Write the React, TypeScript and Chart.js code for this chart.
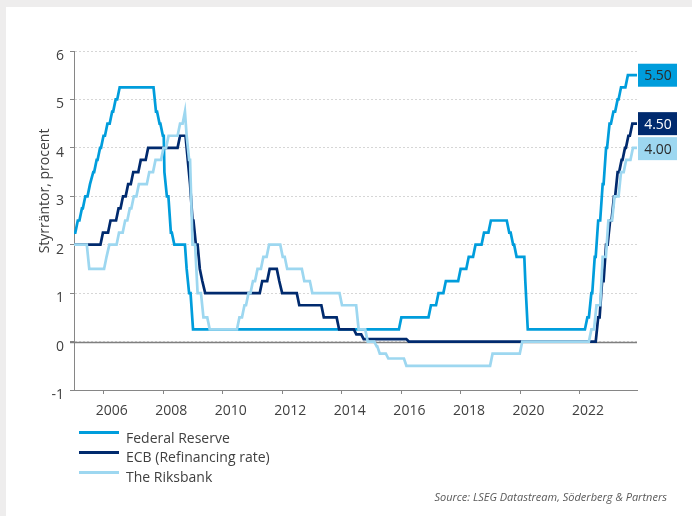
import React, { useEffect, useRef } from "react";
import { Chart, registerables } from "chart.js";

Chart.register(...registerables);

// ---------- data ----------
const SERIES_NAMES = ["Federal Reserve", "ECB (Refinancing rate)", "The Riksbank"];

const X_TICKS = [2006, 2008, 2010, 2012, 2014, 2016, 2018, 2020, 2022];
const Y_TICKS = [-1, 0, 1, 2, 3, 4, 5, 6];
const Y_TITLE = "Styrräntor, procent";
const SOURCE = "Source: LSEG Datastream, Söderberg & Partners";

const FED_DATES = [
  "2005-01-01", "2005-02-02", "2005-03-22", "2005-05-03", "2005-06-30", "2005-08-09",
  "2005-09-20", "2005-11-01", "2005-12-13", "2006-01-31", "2006-03-28", "2006-05-10",
  "2006-06-29", "2007-09-18", "2007-10-31", "2007-12-11", "2008-01-22", "2008-01-30",
  "2008-03-18", "2008-04-30", "2008-10-08", "2008-10-29", "2008-12-16", "2015-12-16",
  "2016-12-14", "2017-03-15", "2017-06-14", "2017-12-13", "2018-03-21", "2018-06-13",
  "2018-09-26", "2018-12-19", "2019-07-31", "2019-09-18", "2019-10-30", "2020-03-03",
  "2020-03-15", "2022-03-16", "2022-05-04", "2022-06-15", "2022-07-27", "2022-09-21",
  "2022-11-02", "2022-12-14", "2023-02-01", "2023-03-22", "2023-05-03", "2023-07-26",
  "2023-12-01",
];
const FED_RATES = [
  2.25, 2.5, 2.75, 3.0, 3.25, 3.5,
  3.75, 4.0, 4.25, 4.5, 4.75, 5.0,
  5.25, 4.75, 4.5, 4.25, 3.5, 3.0,
  2.25, 2.0, 1.5, 1.0, 0.25, 0.5,
  0.75, 1.0, 1.25, 1.5, 1.75, 2.0,
  2.25, 2.5, 2.25, 2.0, 1.75, 1.25,
  0.25, 0.5, 1.0, 1.75, 2.5, 3.25,
  4.0, 4.5, 4.75, 5.0, 5.25, 5.5,
  5.5,
];

const ECB_DATES = [
  "2005-01-01", "2005-12-06", "2006-03-08", "2006-06-15", "2006-08-09", "2006-10-11",
  "2006-12-13", "2007-03-14", "2007-06-13", "2008-07-09", "2008-10-15", "2008-11-12",
  "2008-12-10", "2009-01-21", "2009-03-11", "2009-04-08", "2009-05-13", "2011-04-13",
  "2011-07-13", "2011-11-09", "2011-12-14", "2012-07-11", "2013-05-08", "2013-11-13",
  "2014-06-11", "2014-09-10", "2016-03-16", "2022-07-27", "2022-09-14", "2022-11-02",
  "2022-12-21", "2023-02-08", "2023-03-22", "2023-05-10", "2023-06-21", "2023-08-02",
  "2023-09-20", "2023-12-01",
];
const ECB_RATES = [
  2.0, 2.25, 2.5, 2.75, 3.0, 3.25,
  3.5, 3.75, 4.0, 4.25, 3.75, 3.25,
  2.5, 2.0, 1.5, 1.25, 1.0, 1.25,
  1.5, 1.25, 1.0, 0.75, 0.5, 0.25,
  0.15, 0.05, 0.0, 0.5, 1.25, 2.0,
  2.5, 3.0, 3.5, 3.75, 4.0, 4.25,
  4.5, 4.5,
];

const RIKS_DATES = [
  "2005-01-01", "2005-06-21", "2006-01-20", "2006-02-24", "2006-06-21", "2006-09-05",
  "2006-11-01", "2006-12-20", "2007-02-21", "2007-06-27", "2007-09-12", "2007-12-19",
  "2008-02-20", "2008-07-09", "2008-09-10", "2008-10-08", "2008-10-29", "2008-12-10",
  "2009-02-11", "2009-04-22", "2009-07-08", "2010-07-07", "2010-09-08", "2010-10-27",
  "2010-12-21", "2011-02-16", "2011-04-27", "2011-07-06", "2011-12-21", "2012-02-15",
  "2012-09-12", "2012-12-19", "2013-12-18", "2014-07-09", "2014-10-29", "2015-02-18",
  "2015-03-25", "2015-07-08", "2016-02-17", "2019-01-09", "2020-01-08", "2022-05-04",
  "2022-07-06", "2022-09-21", "2022-11-30", "2023-02-15", "2023-05-03", "2023-07-05",
  "2023-09-27", "2023-12-01",
];
const RIKS_RATES = [
  2.0, 1.5, 1.75, 2.0, 2.25, 2.5,
  2.75, 3.0, 3.25, 3.5, 3.75, 4.0,
  4.25, 4.5, 4.75, 4.25, 3.75, 2.0,
  1.0, 0.5, 0.25, 0.5, 0.75, 1.0,
  1.25, 1.5, 1.75, 2.0, 1.75, 1.5,
  1.25, 1.0, 0.75, 0.25, 0.0, -0.1,
  -0.25, -0.35, -0.5, -0.25, 0.0, 0.25,
  0.75, 1.75, 2.5, 3.0, 3.5, 3.75,
  4.0, 4.0,
];

// ---------- styles ----------
const LINE_COLORS = ["#009ddc", "#002a6e", "#9dd7f0"];
const LABEL_TEXT_COLORS = ["#2b2b2b", "#ffffff", "#2b2b2b"];
const FONT = "'Open Sans', sans-serif";
const TEXT_COLOR = "#404040";

function toYear(s: string): number {
  const [y, m, d] = s.split("-").map(Number);
  return y + (m - 1) / 12 + (d - 1) / 365;
}

// Each rate change is drawn like a monthly series: the old level runs until
// half a month before the decision date, the new level starts half a month after.
function points(dates: string[], rates: number[]) {
  const xs = dates.map(toYear);
  const half = 0.5 / 12;
  const out: { x: number; y: number }[] = [{ x: xs[0], y: rates[0] }];
  for (let i = 1; i < xs.length; i++) {
    if (rates[i] === rates[i - 1]) {
      out.push({ x: xs[i], y: rates[i] });
      continue;
    }
    const last = out[out.length - 1].x;
    const start = Math.max(last, xs[i] - half);
    const nextX = i + 1 < xs.length ? xs[i + 1] - half : xs[i] + half;
    const end = Math.max(start, Math.min(xs[i] + half, nextX));
    if (start > last) out.push({ x: start, y: rates[i - 1] });
    out.push({ x: end, y: rates[i] });
  }
  return out;
}

const annotatePlugin = {
  id: "annotate",
  beforeDatasetsDraw(chart: any) {
    const { ctx, chartArea, scales } = chart;
    const y0 = Math.round(scales.y.getPixelForValue(0)) + 0.5;
    ctx.save();
    ctx.strokeStyle = "#7f7f7f";
    ctx.lineWidth = 1.5;
    ctx.beginPath();
    ctx.moveTo(chartArea.left - 4, y0);
    ctx.lineTo(chartArea.right, y0);
    ctx.stroke();
    ctx.restore();
  },
  afterDraw(chart: any) {
    const { ctx, chartArea, scales } = chart;
    ctx.save();
    ctx.translate(45, 191);
    ctx.rotate(-Math.PI / 2);
    ctx.font = `14px ${FONT}`;
    ctx.fillStyle = TEXT_COLOR;
    ctx.textAlign = "center";
    ctx.textBaseline = "middle";
    ctx.fillText(Y_TITLE, 0, 0);
    ctx.restore();

    const boxes = chart.data.datasets
      .map((ds: any, i: number) => {
        const last = ds.data[ds.data.length - 1];
        return { i, y: scales.y.getPixelForValue(last.y), text: last.y.toFixed(2) };
      })
      .sort((a: any, b: any) => a.y - b.y);
    const h = 23;
    const gap = 25;
    for (let k = 1; k < boxes.length; k++) {
      if (boxes[k].y - boxes[k - 1].y < gap) boxes[k].y = boxes[k - 1].y + gap;
    }
    ctx.save();
    ctx.font = `14px ${FONT}`;
    ctx.textAlign = "center";
    ctx.textBaseline = "middle";
    for (const b of boxes) {
      const x = chartArea.right + 1;
      ctx.fillStyle = LINE_COLORS[b.i];
      ctx.fillRect(x, b.y - h / 2, 39, h);
      ctx.fillStyle = LABEL_TEXT_COLORS[b.i];
      ctx.fillText(b.text, x + 20, b.y + 1);
    }
    ctx.restore();
  },
};

export default function App() {
  const canvasRef = useRef<HTMLCanvasElement | null>(null);

  useEffect(() => {
    const canvas = canvasRef.current;
    if (!canvas) return;
    const series = [
      points(FED_DATES, FED_RATES),
      points(ECB_DATES, ECB_RATES),
      points(RIKS_DATES, RIKS_RATES),
    ];
    const chart = new Chart(canvas, {
      type: "line",
      data: {
        datasets: series.map((data, i) => ({
          label: SERIES_NAMES[i],
          data,
          borderColor: LINE_COLORS[i],
          backgroundColor: LINE_COLORS[i],
          borderWidth: 2.7,
          pointRadius: 0,
          tension: 0,
          fill: false,
          order: 3 - i,
        })),
      },
      options: {
        animation: false,
        responsive: false,
        maintainAspectRatio: false,
        devicePixelRatio: 1,
        layout: { padding: { left: 0, top: 51, right: 55, bottom: 0 } },
        plugins: {
          legend: { display: false },
          tooltip: { enabled: false },
          title: { display: false },
        },
        scales: {
          x: {
            type: "linear",
            min: 2005,
            max: toYear("2023-12-01"),
            afterBuildTicks: (scale: any) => {
              scale.ticks = X_TICKS.map((v) => ({ value: v }));
            },
            afterFit: (scale: any) => {
              scale.height = 126;
            },
            grid: {
              drawOnChartArea: false,
              drawTicks: true,
              tickLength: 4,
              tickColor: "#868686",
              tickWidth: 1,
            },
            border: { display: true, color: "#868686", width: 1 },
            ticks: {
              autoSkip: false,
              maxRotation: 0,
              padding: 9,
              labelOffset: 8,
              color: TEXT_COLOR,
              font: { family: FONT, size: 14 },
              callback: (v: any) => String(v),
            },
          },
          y: {
            type: "linear",
            min: -1,
            max: 6,
            afterBuildTicks: (scale: any) => {
              scale.ticks = Y_TICKS.map((v) => ({ value: v }));
            },
            afterFit: (scale: any) => {
              scale.width = 74;
            },
            grid: {
              drawOnChartArea: true,
              color: "#d6d6d6",
              lineWidth: 1,
              drawTicks: true,
              tickLength: 4,
              tickColor: "#868686",
              tickBorderDash: [],
            },
            border: { display: true, color: "#868686", width: 1, dash: [2, 2] },
            ticks: {
              padding: 6,
              labelOffset: 5,
              color: TEXT_COLOR,
              font: { family: FONT, size: 14 },
              callback: (v: any) => String(v),
            },
          },
        },
      },
      plugins: [annotatePlugin],
    } as any);
    return () => chart.destroy();
  }, []);

  const legendRows = [
    { lineY: 432.7, textTop: 428 },
    { lineY: 452.3, textTop: 447.3 },
    { lineY: 472.3, textTop: 466.5 },
  ];

  return (
    <div
      style={{
        position: "fixed",
        left: 0,
        top: 0,
        width: 692,
        height: 516,
        background: "#eeeded",
        overflow: "hidden",
        fontFamily: FONT,
      }}
    >
      <div style={{ position: "absolute", left: 6, top: 7, right: 0, bottom: 0, background: "#ffffff" }} />
      <canvas
        ref={canvasRef}
        width={692}
        height={516}
        style={{ position: "absolute", left: 0, top: 0, width: 692, height: 516 }}
      />
      {SERIES_NAMES.map((name, i) => (
        <React.Fragment key={name}>
          <div
            style={{
              position: "absolute",
              left: 79,
              width: 40,
              top: legendRows[i].lineY - 1.5,
              height: 3,
              background: LINE_COLORS[i],
            }}
          />
          <div
            style={{
              position: "absolute",
              left: 126,
              top: legendRows[i].textTop,
              height: 20,
              lineHeight: "20px",
              fontSize: 14,
              color: TEXT_COLOR,
              whiteSpace: "nowrap",
            }}
          >
            {name}
          </div>
        </React.Fragment>
      ))}
      <div
        style={{
          position: "absolute",
          right: 25,
          top: 489,
          height: 16,
          lineHeight: "16px",
          fontSize: 11,
          fontStyle: "italic",
          color: "#595959",
          whiteSpace: "nowrap",
        }}
      >
        {SOURCE}
      </div>
    </div>
  );
}
